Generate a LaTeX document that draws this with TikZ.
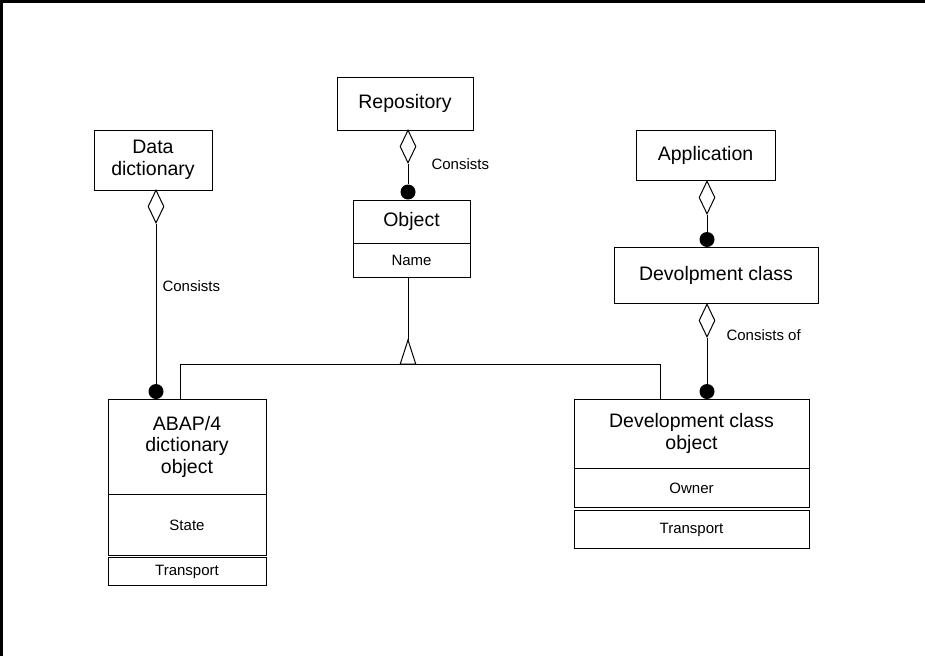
\documentclass[tikz,border=0pt]{standalone}
\usepackage{fontspec}
\setmainfont{Liberation Sans}
\usetikzlibrary{shapes.geometric}
\tikzset{
  classbox/.style={draw, rectangle, inner sep=0pt, align=center, line width=1pt,
    font=\fontsize{19.5}{21.5}\selectfont},
  attrbox/.style={draw, rectangle, inner sep=0pt, line width=1pt,
    font=\fontsize{15}{17}\selectfont},
  agg/.style={draw, diamond, fill=white, inner sep=0pt, line width=1pt,
    minimum width=16pt, minimum height=33pt},
  dot/.style={circle, fill, inner sep=0pt, minimum size=15pt},
  lbl/.style={anchor=west, inner sep=0pt, font=\fontsize{15}{17}\selectfont}
}
\begin{document}
\begin{tikzpicture}[x=1pt, y=-1pt, line width=1pt]
\useasboundingbox (0,0) rectangle (925,656);
\draw[line width=3pt] (1.5,656) -- (1.5,1.5) -- (925,1.5);

% repository / object
\node[classbox, minimum width=136pt, minimum height=53pt] (repo) at (405,103.5) {Repository};
\node[agg] (repodia) at (408,146.5){};
\node[dot] (objdot) at (408,192){};
\node[classbox, minimum width=117pt, minimum height=43pt] (obj) at (411.5,221.5) {Object};
\node[attrbox, minimum width=117pt, minimum height=34pt, anchor=north] (objname) at ([yshift=0.5pt]obj.south) {Name};
\node[lbl] (repolbl) at (431,164) {Consists};
\draw[](repodia) -- (objdot);

% data dictionary
\node[classbox, minimum width=118pt, minimum height=60pt] (dd) at (153,160) {Data\\dictionary};
\node[agg] (dddia) at (156,206.5){};
\node[dot] (abapdot) at (156,391.5){};
\node[lbl] (ddlbl) at (162,286) {Consists};
\draw[](dddia) -- (abapdot);

% abap/4 dictionary object
\node[classbox, minimum width=158pt, minimum height=95pt] (abap) at (187,446.5) {ABAP/4\\dictionary\\object};
\node[attrbox, minimum width=158pt, minimum height=61pt, anchor=north] (abapstate) at ([yshift=0.5pt]abap.south) {State};
\node[attrbox, minimum width=158pt, minimum height=28pt, anchor=north] (abaptrans) at ([yshift=-1pt]abapstate.south) {Transport};

% application / development class
\node[classbox, minimum width=139pt, minimum height=50pt] (app) at (705.5,155) {Application};
\node[agg] (appdia) at (707,197.5){};
\node[dot] (devdot) at (707,239.5){};
\draw[](appdia) -- (devdot);
\node[classbox, minimum width=204pt, minimum height=56pt] (dev) at (716,275) {Devolpment class};
\node[agg] (devdia) at (707,320.5){};
\node[dot] (dcodot) at (707,391.5){};
\node[lbl] (devlbl) at (726,335) {Consists of};
\draw[](devdia) -- (dcodot);

% development class object
\node[classbox, minimum width=235pt, minimum height=69pt] (dco) at (691.5,433.5) {Development class\\object};
\node[attrbox, minimum width=235pt, minimum height=39pt, anchor=north] (dcoowner) at ([yshift=0.5pt]dco.south) {Owner};
\node[attrbox, minimum width=235pt, minimum height=38pt, anchor=north] (dcotrans) at ([yshift=-2pt]dcoowner.south) {Transport};

% generalization
\coordinate (gtop) at (408,340);
\coordinate (gbot) at (408,364);
\coordinate (gl) at (180,364);
\coordinate (gr) at (660,364);
\draw[](gtop |- objname.south) -- (gtop);
\draw[](gtop) -- ++(-7.75,24) -- ++(15.5,0) -- cycle;
\draw[](gl |- abap.north) -- (gl) -- (gr) -- (gr |- dco.north);

\end{tikzpicture}
\end{document}
